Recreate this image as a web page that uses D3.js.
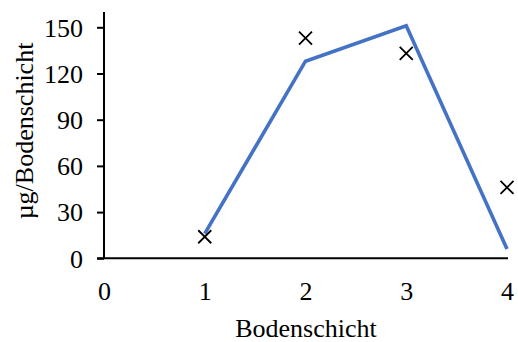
<!DOCTYPE html>
<html>
<head>
<meta charset="utf-8">
<script src="https://cdn.jsdelivr.net/npm/d3@7/dist/d3.min.js"></script>
<style>
  html, body { margin: 0; padding: 0; background: #fff; }
  svg { display: block; }
  text { font-family: "Liberation Serif", "Times New Roman", serif; fill: #000; }
</style>
</head>
<body>
<svg id="chart" width="518" height="342"></svg>
<script>
// Soil layers and measured amounts
const layers = [1, 2, 3, 4];
const modelValues = [16, 128, 151, 6];
const measuredValues = [14, 143, 133, 46];
const xTicks = [0, 1, 2, 3, 4];
const yTicks = [0, 30, 60, 90, 120, 150];
const xTitle = "Bodenschicht";
const yTitle = "µg/Bodenschicht";

const FONT = "'Liberation Serif', 'Times New Roman', serif";
const svg = d3.select("#chart");
const x = d3.scaleLinear().domain([0, 4]).range([104, 507]);
const y = d3.scaleLinear().domain([0, 150]).range([258.3, 27.3]);

// Y axis with outward ticks
const yAxis = svg.append("g")
  .attr("transform", `translate(${x(0)},0)`)
  .call(d3.axisLeft(y).tickValues(yTicks).tickFormat(d3.format("d"))
    .tickSize(7).tickPadding(14).tickSizeOuter(0));
yAxis.attr("font-family", null);
yAxis.select(".domain").attr("d", `M0,${y(0)}V12`).attr("stroke", "#000").attr("stroke-width", 2);
yAxis.selectAll(".tick line").attr("stroke", "#000").attr("stroke-width", 2);
yAxis.selectAll(".tick text").attr("font-size", 26).attr("dy", "0.34em")
  .style("font-family", FONT);

// X axis: labels only, baseline rule
const xAxis = svg.append("g")
  .attr("transform", `translate(0,${y(0)})`)
  .call(d3.axisBottom(x).tickValues(xTicks).tickFormat(d3.format("d"))
    .tickSize(0).tickPadding(23).tickSizeOuter(0));
xAxis.attr("font-family", null);
xAxis.select(".domain").attr("d", `M${x(0) - 7},0H${x(4) + 1}`).attr("stroke", "#000").attr("stroke-width", 2);
xAxis.selectAll(".tick text").attr("font-size", 26)
  .style("font-family", FONT);

// Model line
const line = d3.line().x((d, i) => x(layers[i])).y(d => y(d));
svg.append("path")
  .datum(modelValues)
  .attr("d", line)
  .attr("fill", "none")
  .attr("stroke", "#4472C4")
  .attr("stroke-width", 3.6)
  .attr("stroke-linejoin", "miter");

// Measured points as crosses
const s = 6.5;
svg.append("g").selectAll("path")
  .data(measuredValues)
  .join("path")
  .attr("d", (d, i) => {
    const cx = x(layers[i]), cy = y(d);
    return `M${cx - s},${cy - s}L${cx + s},${cy + s}M${cx - s},${cy + s}L${cx + s},${cy - s}`;
  })
  .attr("stroke", "#000")
  .attr("stroke-width", 1.8)
  .attr("fill", "none");

// Axis titles
svg.append("text")
  .attr("x", 306).attr("y", 337)
  .attr("text-anchor", "middle")
  .attr("font-size", 26)
  .text(xTitle);

svg.append("text")
  .attr("transform", "translate(33,131) rotate(-90)")
  .attr("text-anchor", "middle")
  .attr("font-size", 26)
  .text(yTitle);
</script>
</body>
</html>
